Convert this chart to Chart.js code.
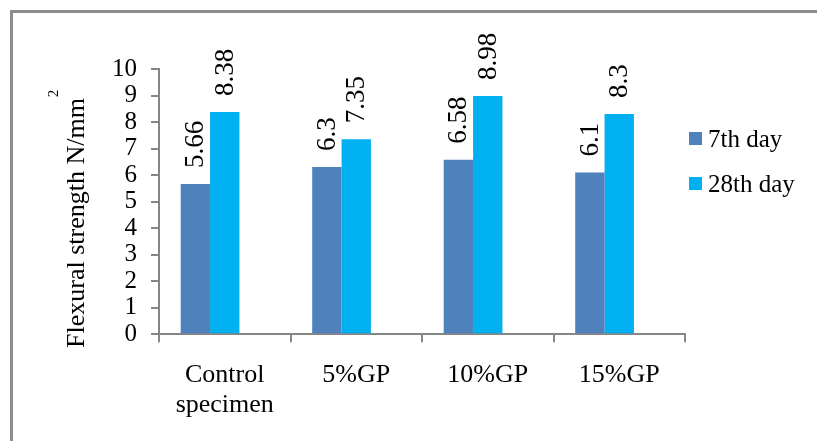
<!DOCTYPE html>
<html>
<head>
<meta charset="utf-8">
<script src="https://cdn.jsdelivr.net/npm/chart.js@4.4.0/dist/chart.umd.min.js"></script>
<style>
  html, body { margin: 0; padding: 0; background: #fff; }
  #wrap { position: relative; width: 817px; height: 441px; overflow: hidden; }
  #frame { position: absolute; left: 10px; top: 10px; width: 900px; height: 500px;
           border-left: 3px solid #8c8c8c; border-top: 3px solid #8c8c8c; }
  canvas { position: absolute; left: 0; top: 0; }
</style>
</head>
<body>
<div id="wrap">
  <div id="frame"></div>
  <canvas id="myChart" width="817" height="441"></canvas>
</div>
<script>
// chart values
var categories = [['Control', 'specimen'], '5%GP', '10%GP', '15%GP'];
var day7 = [5.66, 6.3, 6.58, 6.1];
var day28 = [8.38, 7.35, 8.98, 8.3];
var blank = [null, null, null, null]; // empty third slot the source chart leaves in every group
var seriesNames = ['7th day', '28th day'];
var seriesColors = ['#4F81BD', '#00B0F0'];
var yTicks = [0, 1, 2, 3, 4, 5, 6, 7, 8, 9, 10];
var yTitle = 'Flexural strength N/mm';

var serif = "'Liberation Serif', 'Times New Roman', serif";

// value labels written upright above each bar
var barLabels = {
    id: 'barLabels',
    afterDatasetsDraw: function (chart) {
        var ctx = chart.ctx;
        ctx.save();
        ctx.font = '27px ' + serif;
        ctx.fillStyle = '#000';
        ctx.textAlign = 'left';
        ctx.textBaseline = 'middle';
        chart.data.datasets.forEach(function (ds, i) {
            chart.getDatasetMeta(i).data.forEach(function (bar, j) {
                if (ds.data[j] == null) return;
                ctx.save();
                ctx.translate(bar.x + 1, bar.y - 16);
                ctx.rotate(-Math.PI / 2);
                ctx.fillText(String(ds.data[j]), 0, 0);
                ctx.restore();
            });
        });
        ctx.restore();
    }
};

// y axis title with the superscript 2, and the legend at the right
var extras = {
    id: 'extras',
    afterDraw: function (chart) {
        var ctx = chart.ctx;
        ctx.save();
        ctx.fillStyle = '#000';
        ctx.font = '26px ' + serif;
        ctx.textAlign = 'left';
        ctx.textBaseline = 'alphabetic';
        ctx.translate(84, 348);
        ctx.rotate(-Math.PI / 2);
        ctx.fillText(yTitle, 0, 0);
        var w = ctx.measureText(yTitle).width;
        ctx.font = '15px ' + serif;
        ctx.fillText('2', w + 1, -26);
        ctx.restore();

        ctx.save();
        ctx.font = '25px ' + serif;
        ctx.textBaseline = 'middle';
        var x0 = chart.chartArea.right + 4;
        seriesNames.forEach(function (name, i) {
            var cy = 139 + i * 45;
            ctx.fillStyle = seriesColors[i];
            ctx.fillRect(x0, cy - 7, 13, 13);
            ctx.fillStyle = '#000';
            ctx.fillText(name, x0 + 19, cy + 1);
        });
        ctx.restore();
    }
};

var ctx = document.getElementById('myChart');
new Chart(ctx, {
    type: 'bar',
    data: {
        labels: categories,
        datasets: [{
            label: seriesNames[0],
            backgroundColor: seriesColors[0],
            data: day7
        }, {
            label: seriesNames[1],
            backgroundColor: seriesColors[1],
            data: day28
        }, {
            label: '',
            data: blank
        }]
    },
    options: {
        responsive: false,
        animation: false,
        layout: { padding: { left: 98, top: 69, right: 132, bottom: 3 } },
        datasets: { bar: { categoryPercentage: 0.67, barPercentage: 1.0 } },
        plugins: {
            legend: { display: false },
            tooltip: { enabled: false }
        },
        scales: {
            x: {
                grid: { display: true, drawOnChartArea: false, tickLength: 8, color: '#868686', lineWidth: 2 },
                border: { color: '#868686', width: 2 },
                ticks: { color: '#000', padding: 18, font: { family: serif, size: 26, lineHeight: 1.15 }, maxRotation: 0 }
            },
            y: {
                min: 0, max: 10,
                afterBuildTicks: function (axis) { axis.ticks = yTicks.map(function (v) { return { value: v }; }); },
                grid: { display: true, drawOnChartArea: false, tickLength: 8, color: '#868686', lineWidth: 2 },
                border: { color: '#868686', width: 2 },
                ticks: { color: '#000', padding: 14, autoSkip: false, font: { family: serif, size: 25 } }
            }
        }
    },
    plugins: [barLabels, extras]
});
</script>
</body>
</html>
